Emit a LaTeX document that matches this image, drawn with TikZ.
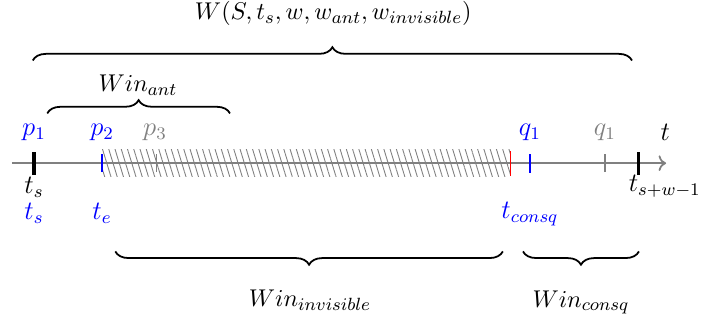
\documentclass[tikz,border=0pt]{standalone}
\usepackage{amsmath,amssymb}
\usepackage{tikz}
\usetikzlibrary{arrows.meta, positioning, calc, decorations.pathreplacing, patterns.meta}
\usepackage{xcolor}
\definecolor{pblue}{RGB}{0,0,255}
\definecolor{pgray}{RGB}{128,128,128}
\definecolor{cutred}{RGB}{255,0,0}

\tikzset{
  upbrace/.style={decorate, decoration={brace, amplitude=6pt}, thick},
  downbrace/.style={decorate, decoration={brace, mirror, amplitude=6pt}, thick},
  bigtick/.style={line width=1.4pt},
  smalltick/.style={line width=0.6pt},
  ptlabel/.style={font=\large},
  winlabel/.style={font=\fontsize{11}{13}\selectfont}
}

\begin{document}
\begin{tikzpicture}
  \useasboundingbox (0,-2.57) rectangle (11.22,2.59);
  % invisible part
  \fill[pattern={Lines[angle=-73, distance=2.7pt, line width=0.4pt]}, pattern color=pgray] (1.62,-0.21) rectangle (8.10,0.21);
  % time axis
  \coordinate (start) at (0.19,0);
  \coordinate (end) at (10.57,0);
  \draw[->, pgray, thick] (start) -- (end);
  \node[ptlabel] (tlab) at (10.56,0.49) {$t$};
  % ticks
  \draw[bigtick] (0.54,-0.18) -- (0.54,0.18);
  \draw[bigtick] (10.14,-0.18) -- (10.14,0.18);
  \draw[smalltick, pblue] (1.62,-0.14) -- (1.62,0.14);
  \draw[smalltick, pgray] (2.48,-0.14) -- (2.48,0.14);
  \draw[smalltick, cutred] (8.10,-0.2) -- (8.10,0.2);
  \draw[smalltick, pblue] (8.41,-0.15) -- (8.41,0.15);
  \draw[smalltick, pgray] (9.60,-0.14) -- (9.60,0.14);
  % points
  \node[ptlabel, pblue] (p1) at (0.54,0.49) {$p_1$};
  \node[ptlabel, pblue] (p2) at (1.62,0.49) {$p_2$};
  \node[ptlabel, pgray] (p3) at (2.46,0.49) {$p_3$};
  \node[ptlabel, pblue] (q1) at (8.41,0.49) {$q_1$};
  \node[ptlabel, pgray] (q1b) at (9.60,0.49) {$q_1$};
  % times
  \node[ptlabel] (ts) at (0.54,-0.38) {$t_s$};
  \node[ptlabel] (tlast) at (10.55,-0.36) {$t_{s+w-1}$};
  \node[ptlabel, pblue] (tsb) at (0.54,-0.80) {$t_s$};
  \node[ptlabel, pblue] (te) at (1.62,-0.80) {$t_e$};
  \node[ptlabel, pblue] (tconsq) at (8.41,-0.80) {$t_{consq}$};
  % windows
  \coordinate (wl) at (0.52,1.63);
  \coordinate (wr) at (10.03,1.63);
  \draw[upbrace] (wl) -- (wr);
  \node[winlabel] (wlab) at (5.29,2.37) {$W(S,t_s,w,w_{ant},w_{invisible})$};
  \coordinate (al) at (0.75,0.79);
  \coordinate (ar) at (3.65,0.79);
  \draw[upbrace] (al) -- (ar);
  \node[winlabel] (alab) at (2.19,1.24) {$Win_{ant}$};
  \coordinate (il) at (1.83,-1.40);
  \coordinate (ir) at (7.98,-1.40);
  \draw[downbrace] (il) -- (ir);
  \node[winlabel] (ilab) at (4.92,-2.17) {$Win_{invisible}$};
  \coordinate (cl) at (8.30,-1.40);
  \coordinate (cr) at (10.14,-1.40);
  \draw[downbrace] (cl) -- (cr);
  \node[winlabel] (clab) at (9.22,-2.21) {$Win_{consq}$};
\end{tikzpicture}
\end{document}
